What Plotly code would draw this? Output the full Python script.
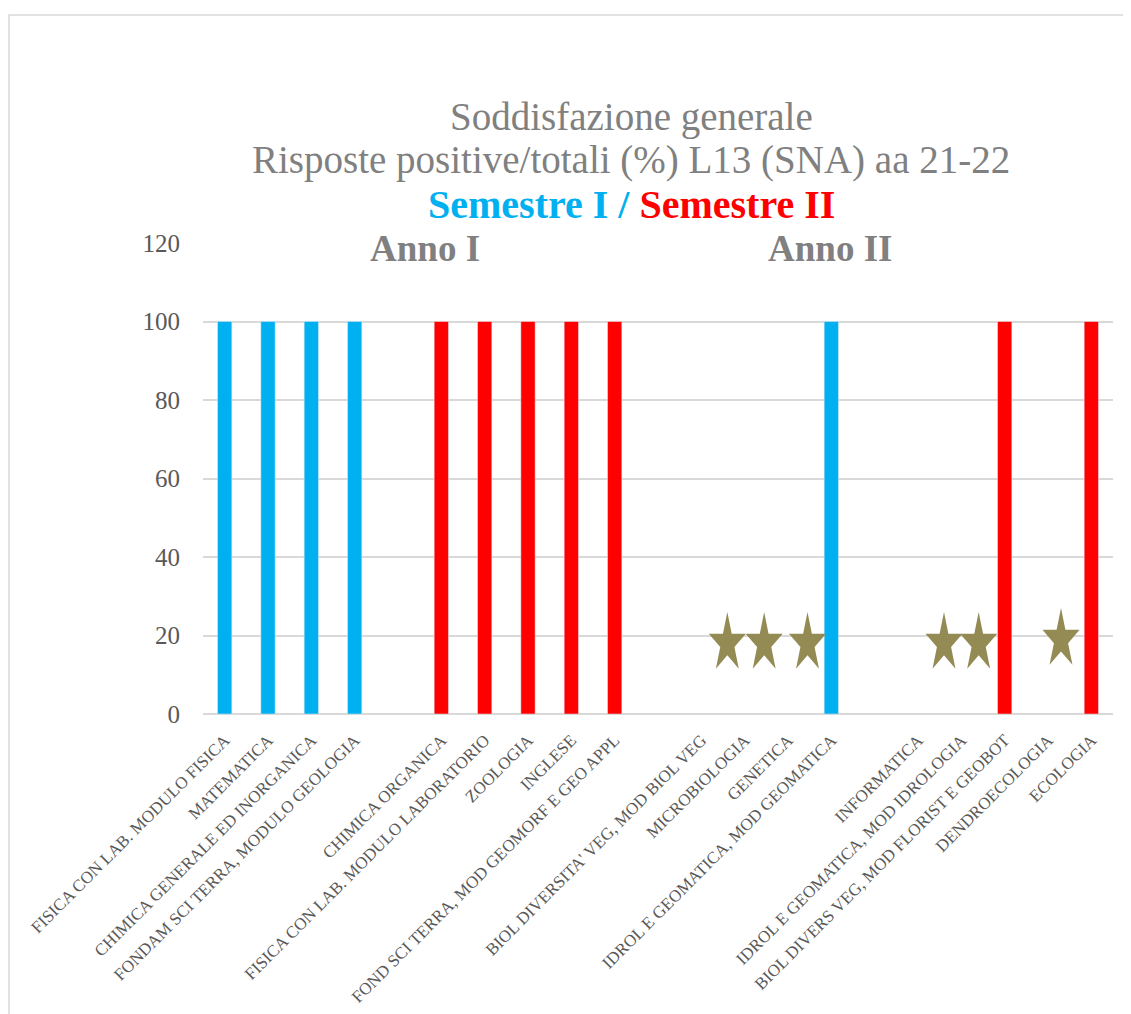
import plotly.graph_objects as go
import math

# ---- data ----
courses = [
    "FISICA CON LAB. MODULO FISICA",
    "MATEMATICA",
    "CHIMICA GENERALE ED INORGANICA",
    "FONDAM SCI TERRA, MODULO GEOLOGIA",
    "",
    "CHIMICA ORGANICA",
    "FISICA CON LAB. MODULO LABORATORIO",
    "ZOOLOGIA",
    "INGLESE",
    "FOND SCI TERRA, MOD GEOMORF E GEO APPL",
    "",
    "BIOL DIVERSITA' VEG, MOD BIOL VEG",
    "MICROBIOLOGIA",
    "GENETICA",
    "IDROL E GEOMATICA, MOD GEOMATICA",
    "",
    "INFORMATICA",
    "IDROL E GEOMATICA, MOD IDROLOGIA",
    "BIOL DIVERS VEG, MOD FLORIST E GEOBOT",
    "DENDROECOLOGIA",
    "ECOLOGIA",
]
semestre_I = [100, 100, 100, 100, None, None, None, None, None, None, None,
              None, None, None, 100, None, None, None, None, None, None]
semestre_II = [None, None, None, None, None, 100, 100, 100, 100, 100, None,
               None, None, None, None, None, None, None, 100, None, 100]
# stars (insufficient responses), estimated positions along the category axis
star_x = [11.6, 12.45, 13.45, 16.6, 17.4, 19.3]
star_y = [18, 18, 18, 18, 18, 19]
y_ticks = [0, 20, 40, 60, 80, 100, 120]

BLUE = "#00B0F0"
RED = "#FF0000"
STAR = "#948A54"
GRID = "#D9D9D9"
GRAY = "#808080"
SERIF = "Liberation Serif, DejaVu Serif, serif"

idx = list(range(len(courses)))

fig = go.Figure()
fig.add_trace(go.Bar(x=idx, y=semestre_I, marker_color=BLUE, width=0.33,
                     name="Semestre I"))
fig.add_trace(go.Bar(x=idx, y=semestre_II, marker_color=RED, width=0.33,
                     name="Semestre II"))

# star polygons drawn in data space
def star_path(cx, cy, rx, ry):
    xs, ys = [], []
    for k in range(11):
        ang = math.pi / 2 + k * math.pi / 5
        r = 1.0 if k % 2 == 0 else 0.382
        xs.append(cx + rx * r * math.cos(ang))
        ys.append(cy + ry * r * math.sin(ang))
    return xs, ys

sx, sy = [], []
for cx, cy in zip(star_x, star_y):
    xs, ys = star_path(cx, cy, 0.45, 8.0)
    sx += xs + [None]
    sy += ys + [None]
fig.add_trace(go.Scatter(x=sx, y=sy, mode="lines", fill="toself",
                         fillcolor=STAR, line=dict(width=0, color=STAR),
                         hoverinfo="skip"))

OFF = 8  # page body margin
W, H = 1131 - OFF, 1014 - OFF
L, T = 203 - OFF, 243 - OFF
R = 18
PH = 471
B = H - T - PH
pw, ph = W - L - R, PH

def px(x):
    return (x - OFF - L) / pw

def py(y):
    return (T + PH - (y - OFF)) / ph

fig.update_layout(
    width=W, height=H,
    margin=dict(l=L, r=R, t=T, b=B, autoexpand=False),
    paper_bgcolor="white", plot_bgcolor="white",
    showlegend=False,
    barmode="overlay",
    xaxis=dict(range=[-0.5, len(courses) - 0.5], tickmode="array",
               tickvals=idx, ticktext=courses, tickangle=-45,
               tickfont=dict(family=SERIF, size=17, color="#595959"),
               showgrid=False, zeroline=False, showline=False, ticks="",
               ticklabelstandoff=12, automargin=False),
    yaxis=dict(range=[0, 120], tickmode="array", tickvals=y_ticks,
               tickfont=dict(family=SERIF, size=25, color="#595959"),
               showgrid=True, gridcolor=GRID, gridwidth=1.5,
               zeroline=True, zerolinecolor=GRID, zerolinewidth=1.5,
               ticks="", ticklabelstandoff=22, automargin=False),
)

ann = [
    dict(text="Soddisfazione generale", x=px(631), y=py(117),
         font=dict(family=SERIF, size=39, color=GRAY)),
    dict(text="Risposte positive/totali (%) L13 (SNA) aa 21-22", x=px(631), y=py(160),
         font=dict(family=SERIF, size=39, color=GRAY)),
    dict(text="<b><span style='color:%s'>Semestre I / </span><span style='color:%s'>Semestre II</span></b>" % (BLUE, RED),
         x=px(631), y=py(204), font=dict(family=SERIF, size=40, color=BLUE)),
    dict(text="<b>Anno I</b>", x=px(425), y=py(248),
         font=dict(family=SERIF, size=37, color=GRAY)),
    dict(text="<b>Anno II</b>", x=px(830), y=py(248),
         font=dict(family=SERIF, size=37, color=GRAY)),
]
for a in ann:
    fig.add_annotation(xref="paper", yref="paper", showarrow=False,
                       xanchor="center", yanchor="middle", **a)

fig.add_shape(type="rect", xref="paper", yref="paper",
              x0=px(9), x1=px(1145), y0=py(1030), y1=py(15),
              line=dict(color=GRID, width=1.5), fillcolor="rgba(0,0,0,0)",
              layer="below")

fig.write_html("out.html")
